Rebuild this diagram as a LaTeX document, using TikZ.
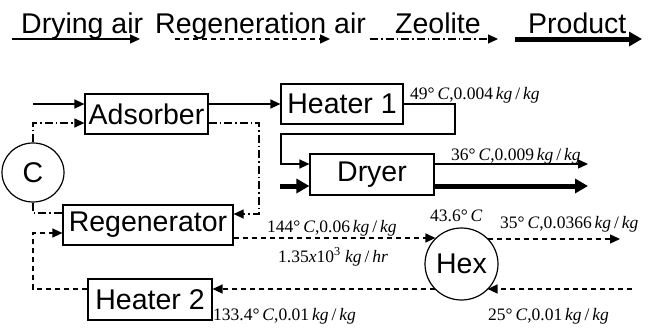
\documentclass[tikz,border=0pt]{standalone}
\usepackage{fontspec}
\setmainfont{Liberation Sans}
\newfontfamily\tnr{Liberation Serif}
\usetikzlibrary{arrows.meta,shapes.geometric}
\newcommand\kgkg{\textit{kg}\,/\,\textit{kg}}
\begin{document}
\begin{tikzpicture}[x=1pt,y=-1pt,
  boxtext/.style={font=\fontsize{28.5}{30}\selectfont},
  unitbox/.style={draw,line width=1.2pt,inner sep=0pt,boxtext},
  roundunit/.style={draw,ellipse,line width=1.2pt,inner sep=0pt,boxtext},
  lab/.style={anchor=base west,inner sep=0pt,font=\tnr\fontsize{17.5}{19}\selectfont},
  legtext/.style={anchor=base west,inner sep=0pt,boxtext},
  sol/.style={line width=1.3pt},
  dsh/.style={line width=1.3pt,dash pattern=on 5pt off 4pt},
  ddt/.style={line width=1.2pt,dash pattern=on 8pt off 3pt on 1.5pt off 3pt},
  tip/.style={-{Triangle[length=10pt,width=9pt]}},
  thk/.style={line width=5pt,-{Triangle[length=13pt,width=14pt]}}
]
\useasboundingbox (0,0) rectangle (650,327);
% legend
\node[legtext] (lg1) at (21,33) {Drying air};
\node[legtext] (lg2) at (155,33) {Regeneration air};
\node[legtext] (lg3) at (395,33) {Zeolite};
\node[legtext] (lg4) at (528,33) {Product};
\coordinate (a1) at (12,39); \coordinate (a2) at (140,39);
\coordinate (b1) at (175,39); \coordinate (b2) at (330,39);
\coordinate (c1) at (370,39); \coordinate (c2) at (498,39);
\coordinate (d1) at (515,39); \coordinate (d2) at (642,39);
\draw[sol,tip] (a1) -- (a2);
\draw[dsh,tip] (b1) -- (b2);
\draw[ddt,tip] (c1) -- (c2);
\draw[thk] (d1) -- (d2);
% units
\node[unitbox,minimum width=123pt,minimum height=40pt] (Ads) at (146.5,114) {Adsorber};
\node[unitbox,minimum width=122pt,minimum height=40pt] (H1) at (342,104) {Heater 1};
\node[unitbox,minimum width=124pt,minimum height=41pt] (Dry) at (372,174.5) {Dryer};
\node[unitbox,minimum width=170pt,minimum height=40pt] (Reg) at (148,225) {Regenerator};
\node[unitbox,minimum width=124pt,minimum height=41pt] (H2) at (150,299.5) {Heater 2};
\node[roundunit,minimum width=62pt,minimum height=59pt] (C) at (33,172.5) {C};
\node[roundunit,minimum width=73pt,minimum height=72pt] (Hex) at (461.5,264) {Hex};
% drying air
\coordinate (inA) at (33,104);
\draw[sol,tip] (inA) -- (inA -| Ads.west);
\draw[sol,tip] (Ads.east |- H1) -- (H1.west);
\coordinate (h1) at (455,104); \coordinate (h2) at (455,134);
\coordinate (h3) at (281,134); \coordinate (h4) at (281,164);
\draw[sol,tip] (H1.east) -- (h1) -- (h2) -- (h3) -- (h4) -- (h4 -| Dry.west);
\coordinate (dout) at (588,164);
\draw[sol,tip] (Dry.east |- dout) -- (dout);
% product
\coordinate (pin) at (280,186); \coordinate (pout) at (588,186);
\draw[thk] (pin) -- (pin -| Dry.west);
\draw[thk] (Dry.east |- pout) -- (pout);
% zeolite
\coordinate (inZ) at (33,123);
\draw[ddt,tip] (C.north) -- (inZ) -- (inZ -| Ads.west);
\coordinate (zr) at (259,123); \coordinate (zr2) at (259,214);
\draw[ddt,tip] (Ads.east |- inZ) -- (zr) -- (zr2) -- (zr2 -| Reg.east);
\coordinate (zl) at (33,213);
\draw[ddt] (C.south) -- (zl) -- (zl -| Reg.west);
% regeneration air
\coordinate (ra) at (33,233); \coordinate (rb) at (33,289);
\draw[dsh,tip] (H2.west |- rb) -- (rb) -- (ra) -- (ra -| Reg.west);
\draw[dsh,tip] (Reg.east |- Hex.135) -- (Hex.135);
\coordinate (ho) at (620,239);
\draw[dsh,tip] (Hex.45 |- ho) -- (ho);
\coordinate (hi) at (632,289);
\draw[dsh,tip] (hi) -- (hi -| Hex.-45);
\draw[dsh,tip] (Hex.-135 |- hi) -- (hi -| H2.east);
% labels
\node[lab] (l1) at (410,99) {49°\,\textit{C},0.004\,\kgkg};
\node[lab] (l2) at (451,160) {36°\,\textit{C},0.009\,\kgkg};
\node[lab] (l3) at (267,232) {144°\,\textit{C},0.06\,\kgkg};
\node[lab] (l4) at (278,262) {1.35\textit{x}10\textsuperscript{3} \textit{kg}\,/\,\textit{hr}};
\node[lab] (l5) at (430,221) {43.6°\,\textit{C}};
\node[lab] (l6) at (500,228) {35°\,\textit{C},0.0366\,\kgkg};
\node[lab] (l7) at (488,320) {25°\,\textit{C},0.01\,\kgkg};
\node[lab] (l8) at (213,320) {133.4°\,\textit{C},0.01\,\kgkg};
\end{tikzpicture}
\end{document}
